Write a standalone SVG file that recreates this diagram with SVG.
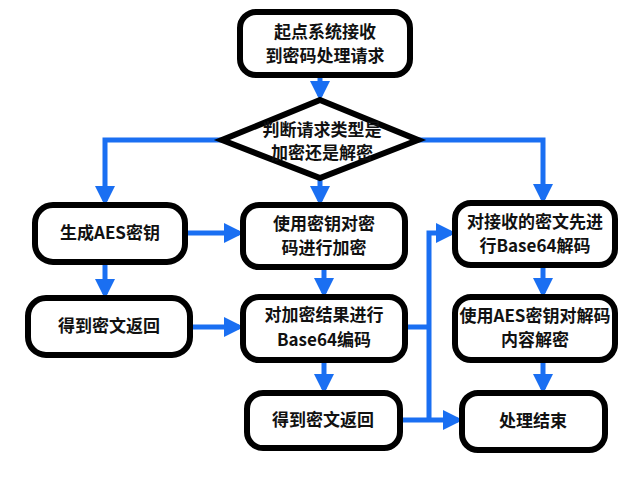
<svg xmlns="http://www.w3.org/2000/svg" width="640" height="480" viewBox="0 0 640 480">
<style>
.n{fill:#fff;stroke:#000;stroke-width:6}
.t{font-family:"Noto Sans CJK SC","Noto Sans",sans-serif;font-size:17px;font-weight:bold;text-anchor:middle;fill:#111}
.c{fill:none;stroke:#1a6ff2;stroke-width:5}
</style>
<defs><marker id="a" markerWidth="4" markerHeight="4" refX="3" refY="2" orient="auto" markerUnits="strokeWidth"><path d="M0,0L4,2L0,4z" fill="#1a6ff2"/></marker></defs>
<rect width="640" height="480" fill="#fff"/>
<g id="connectors">
<path class="c" d="M320,75V96" marker-end="url(#a)"/>
<path class="c" d="M320,180V201" marker-end="url(#a)"/>
<path class="c" d="M222,140H105V201" marker-end="url(#a)"/>
<path class="c" d="M418,140H543V199" marker-end="url(#a)"/>
<path class="c" d="M105,262V294" marker-end="url(#a)"/>
<path class="c" d="M185,233H239" marker-end="url(#a)"/>
<path class="c" d="M190,327H239" marker-end="url(#a)"/>
<path class="c" d="M324,267V293" marker-end="url(#a)"/>
<path class="c" d="M324,360V389" marker-end="url(#a)"/>
<path class="c" d="M405,327H429M400,420H429M429,420V233H451" marker-end="url(#a)"/>
<path class="c" d="M429,420H458" marker-end="url(#a)"/>
<path class="c" d="M543,265V293" marker-end="url(#a)"/>
<path class="c" d="M543,360V389" marker-end="url(#a)"/>
</g>
<g id="start"><rect class="n" x="240" y="12" width="170" height="63" rx="16"/><text class="t" x="325" y="38">起点系统接收</text><text class="t" x="325" y="62">到密码处理请求</text></g>
<g id="decision"><polygon class="n" points="320,100 418,140 320,178 222,140"/><text class="t" x="322" y="136">判断请求类型是</text><text class="t" x="322" y="159">加密还是解密</text></g>
<g id="genkey"><rect class="n" x="35" y="205" width="150" height="57" rx="18"/><text class="t" x="110" y="239">生成AES密钥</text></g>
<g id="ret1"><rect class="n" x="28" y="298" width="162" height="57" rx="18"/><text class="t" x="109" y="332">得到密文返回</text></g>
<g id="encrypt"><rect class="n" x="243" y="205" width="162" height="62" rx="16"/><text class="t" x="324" y="230">使用密钥对密</text><text class="t" x="324" y="254">码进行加密</text></g>
<g id="b64enc"><rect class="n" x="243" y="297" width="162" height="63" rx="16"/><text class="t" x="324" y="321">对加密结果进行</text><text class="t" x="324" y="346">Base64编码</text></g>
<g id="ret2"><rect class="n" x="247" y="393" width="153" height="55" rx="16"/><text class="t" x="323" y="426">得到密文返回</text></g>
<g id="b64dec"><rect class="n" x="455" y="203" width="160" height="62" rx="16"/><text class="t" x="535" y="228">对接收的密文先进</text><text class="t" x="535" y="252">行Base64解码</text></g>
<g id="decrypt"><rect class="n" x="455" y="297" width="160" height="63" rx="16"/><text class="t" x="535" y="322">使用AES密钥对解码</text><text class="t" x="535" y="346">内容解密</text></g>
<g id="end"><rect class="n" x="462" y="393" width="143" height="57" rx="16"/><text class="t" x="533" y="427">处理结束</text></g>
</svg>
